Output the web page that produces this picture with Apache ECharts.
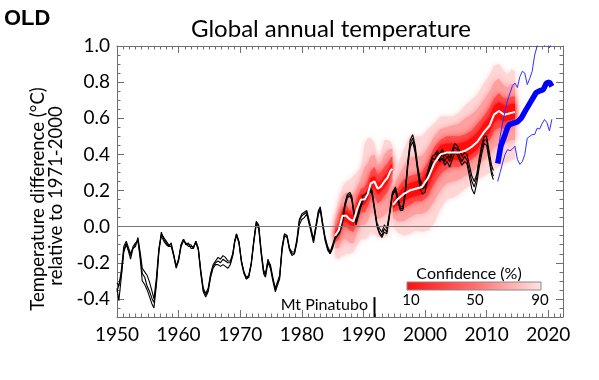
<!DOCTYPE html>
<html><head><meta charset="utf-8">
<script src="https://cdn.jsdelivr.net/npm/echarts@6/dist/echarts.min.js"></script>
<style>html,body{margin:0;padding:0;background:#fff}#c{width:599px;height:380px}</style>
</head><body><div id="c"></div>
<script>
// ---------- observations (three data sets) ----------
const obsYears = [
1950.0,1950.3,1950.7,1951.1,1951.5,1951.8,1952.2,1952.6,1953.0,1953.4,
1953.8,1954.1,1954.5,1954.9,1955.3,1955.7,1956.0,1956.4,1956.8,1957.2,
1957.6,1958.0,1958.4,1958.8,1959.2,1959.6,1960.0,1960.4,1960.8,1961.2,
1961.6,1962.0,1962.4,1962.8,1963.2,1963.6,1964.0,1964.4,1964.8,1965.2,
1965.6,1966.0,1966.4,1966.8,1967.2,1967.6,1968.0,1968.4,1968.8,1969.1,
1969.4,1969.8,1970.2,1970.6,1971.0,1971.4,1971.8,1972.2,1972.6,1973.0,
1973.4,1973.8,1974.1,1974.5,1974.9,1975.3,1975.7,1976.0,1976.4,1976.8,
1977.2,1977.6,1978.0,1978.4,1978.8,1979.2,1979.6,1980.0,1980.4,1980.8,
1981.1,1981.5,1981.9,1982.3,1982.7,1983.0,1983.4,1983.8,1984.2,1984.6,
1985.0,1985.4,1985.8,1986.2,1986.6,1987.0,1987.4,1987.8,1988.1,1988.4,
1988.8,1989.1,1989.5,1989.9,1990.3,1990.7,1991.0,1991.4,1991.8,1992.2,
1992.6,1993.0,1993.4,1993.8,1994.2,1994.7,1995.2,1995.6,1996.0,1996.4,
1996.8,1997.2,1997.6,1998.0,1998.4,1998.8,1999.2,1999.6,2000.0,2000.4,
2000.8,2001.2,2001.6,2002.0,2002.4,2002.8,2003.2,2003.6,2004.0,2004.4,
2004.8,2005.2,2005.6,2006.0,2006.4,2006.8,2007.2,2007.6,2008.0,2008.4,
2008.8,2009.2,2009.6,2010.0,2010.4,2010.8,2011.1];
const obsA = [
-0.34,-0.41,-0.28,-0.13,-0.09,-0.10,-0.18,-0.12,-0.10,-0.07,
-0.19,-0.30,-0.32,-0.35,-0.39,-0.43,-0.45,-0.32,-0.14,-0.04,
-0.06,-0.08,-0.10,-0.10,-0.15,-0.22,-0.18,-0.10,-0.07,-0.10,
-0.10,-0.10,-0.12,-0.08,-0.12,-0.25,-0.35,-0.38,-0.35,-0.27,
-0.22,-0.20,-0.19,-0.20,-0.18,-0.19,-0.20,-0.20,-0.15,-0.08,
-0.04,-0.08,-0.19,-0.25,-0.29,-0.27,-0.20,-0.08,0.02,0.00,
-0.14,-0.25,-0.27,-0.18,-0.22,-0.29,-0.35,-0.36,-0.28,-0.12,
-0.04,-0.05,-0.12,-0.15,-0.15,-0.08,0.03,0.06,0.07,0.08,
0.08,-0.02,-0.08,0.00,0.08,0.10,0.01,-0.07,-0.12,-0.15,
-0.11,-0.06,-0.04,-0.02,0.03,0.12,0.17,0.18,0.16,0.09,
0.02,0.03,0.11,0.15,0.16,0.18,0.21,0.19,0.10,0.01,
-0.03,-0.05,-0.01,-0.03,0.06,0.18,0.21,0.15,0.10,0.10,
0.19,0.35,0.46,0.49,0.43,0.32,0.24,0.21,0.22,0.28,
0.33,0.38,0.37,0.41,0.37,0.41,0.36,0.39,0.36,0.40,
0.44,0.43,0.39,0.36,0.39,0.37,0.31,0.25,0.22,0.27,
0.36,0.43,0.48,0.48,0.39,0.31,0.28];
const obsB = [
-0.36,-0.37,-0.27,-0.14,-0.10,-0.09,-0.16,-0.11,-0.09,-0.08,
-0.17,-0.26,-0.28,-0.33,-0.36,-0.40,-0.42,-0.31,-0.13,-0.03,
-0.07,-0.09,-0.11,-0.09,-0.16,-0.23,-0.19,-0.11,-0.08,-0.09,
-0.11,-0.11,-0.11,-0.09,-0.13,-0.26,-0.36,-0.39,-0.36,-0.28,
-0.23,-0.21,-0.21,-0.22,-0.21,-0.22,-0.23,-0.21,-0.16,-0.09,
-0.05,-0.09,-0.20,-0.26,-0.29,-0.28,-0.21,-0.09,0.01,-0.01,
-0.15,-0.26,-0.28,-0.20,-0.23,-0.30,-0.36,-0.37,-0.29,-0.13,
-0.05,-0.06,-0.13,-0.16,-0.15,-0.09,0.01,0.04,0.05,0.07,
0.07,-0.03,-0.09,-0.01,0.07,0.09,0.00,-0.08,-0.13,-0.15,
-0.12,-0.07,-0.05,-0.03,0.02,0.11,0.16,0.17,0.15,0.08,
0.01,0.02,0.10,0.14,0.15,0.17,0.20,0.18,0.09,0.00,
-0.04,-0.06,-0.03,-0.04,0.05,0.17,0.20,0.14,0.09,0.09,
0.18,0.33,0.44,0.47,0.41,0.31,0.21,0.18,0.19,0.26,
0.31,0.36,0.35,0.38,0.36,0.38,0.34,0.36,0.33,0.37,
0.41,0.40,0.37,0.34,0.36,0.35,0.28,0.21,0.18,0.24,
0.33,0.40,0.46,0.45,0.37,0.29,0.26];
const obsC = [
-0.31,-0.33,-0.24,-0.11,-0.08,-0.08,-0.15,-0.12,-0.11,-0.06,
-0.15,-0.23,-0.25,-0.27,-0.31,-0.36,-0.40,-0.28,-0.12,-0.05,
-0.08,-0.10,-0.11,-0.11,-0.16,-0.22,-0.18,-0.10,-0.07,-0.10,
-0.09,-0.12,-0.12,-0.08,-0.12,-0.24,-0.34,-0.37,-0.34,-0.26,
-0.21,-0.19,-0.17,-0.18,-0.16,-0.17,-0.19,-0.19,-0.15,-0.08,
-0.04,-0.09,-0.19,-0.25,-0.28,-0.27,-0.20,-0.08,0.03,0.01,
-0.13,-0.24,-0.26,-0.19,-0.21,-0.28,-0.34,-0.35,-0.27,-0.11,
-0.04,-0.05,-0.12,-0.14,-0.14,-0.07,0.04,0.07,0.08,0.09,
0.09,-0.01,-0.07,0.01,0.09,0.11,0.02,-0.06,-0.11,-0.14,
-0.10,-0.06,-0.03,-0.01,0.04,0.13,0.18,0.19,0.17,0.10,
0.03,0.04,0.12,0.17,0.18,0.19,0.22,0.20,0.11,0.02,
-0.01,-0.03,0.01,-0.01,0.07,0.19,0.22,0.16,0.11,0.11,
0.20,0.36,0.48,0.51,0.45,0.34,0.26,0.23,0.24,0.30,
0.35,0.39,0.40,0.42,0.40,0.43,0.39,0.41,0.38,0.42,
0.46,0.45,0.42,0.39,0.41,0.40,0.34,0.28,0.25,0.29,
0.38,0.45,0.50,0.50,0.42,0.34,0.31];

// ---------- hindcast fan, first block ----------
const hcYearsA = [1985.4,1986.0,1986.6,1987.2,1987.8,1988.4,1989.0,1989.6,1990.2,1990.7,1991.2,1991.8,1992.3,1992.8,1993.4,1993.9,1994.4,1994.7];
const hcMedA  = [-0.05,-0.02,0.06,0.06,0.04,0.03,0.10,0.15,0.15,0.18,0.24,0.25,0.21,0.22,0.25,0.27,0.31,0.32];
const hcLo90A = [-0.17,-0.18,-0.16,-0.15,-0.15,-0.14,-0.10,-0.07,-0.07,-0.06,-0.03,-0.04,-0.06,-0.06,-0.06,-0.05,0.00,0.03];
const hcLo60A = [-0.12,-0.12,-0.07,-0.07,-0.09,-0.09,-0.03,0.01,0.01,0.03,0.08,0.08,0.04,0.05,0.06,0.08,0.12,0.14];
const hcLo30A = [-0.09,-0.07,0.00,0.00,-0.02,-0.03,0.04,0.08,0.08,0.11,0.16,0.17,0.13,0.14,0.17,0.19,0.23,0.25];
const hcLo10A = [-0.07,-0.04,0.03,0.03,0.01,0.00,0.07,0.12,0.12,0.15,0.21,0.22,0.18,0.19,0.22,0.24,0.28,0.29];
const hcHi10A = [-0.03,0.00,0.09,0.09,0.07,0.06,0.13,0.18,0.18,0.21,0.27,0.28,0.24,0.25,0.28,0.30,0.34,0.35];
const hcHi30A = [-0.01,0.03,0.11,0.12,0.09,0.09,0.16,0.21,0.22,0.25,0.31,0.33,0.29,0.30,0.33,0.35,0.38,0.39];
const hcHi60A = [0.03,0.09,0.17,0.19,0.17,0.18,0.22,0.27,0.33,0.35,0.39,0.40,0.34,0.35,0.40,0.42,0.43,0.43];
const hcHi90A = [0.05,0.14,0.22,0.25,0.26,0.28,0.30,0.33,0.46,0.49,0.49,0.46,0.38,0.40,0.48,0.48,0.47,0.45];

// ---------- hindcast fan, second block ----------
const hcYearsB = [1994.8,1995.5,1996.5,1997.5,1998.5,1999.5,2000.5,2001.5,2002.5,2003.5,2004.5,2005.5,2006.5,2007.5,2008.5,2009.5,2010.5,2011.2,2012.0,2012.8,2013.5,2014.0,2014.6];
const hcMedB  = [0.12,0.15,0.18,0.20,0.21,0.22,0.27,0.35,0.40,0.41,0.41,0.41,0.42,0.44,0.47,0.52,0.56,0.62,0.64,0.62,0.625,0.63,0.635];
const hcLo90B = [0.00,-0.03,-0.05,-0.04,-0.02,-0.03,-0.02,0.02,0.10,0.15,0.16,0.18,0.21,0.23,0.26,0.28,0.30,0.32,0.33,0.35,0.36,0.37,0.37];
const hcLo60B = [0.05,0.03,0.03,0.05,0.07,0.07,0.09,0.14,0.20,0.24,0.25,0.26,0.28,0.30,0.33,0.37,0.40,0.44,0.45,0.46,0.47,0.48,0.48];
const hcLo30B = [0.08,0.09,0.10,0.12,0.14,0.14,0.17,0.24,0.29,0.32,0.33,0.33,0.35,0.37,0.40,0.45,0.48,0.53,0.55,0.54,0.55,0.56,0.56];
const hcLo10B = [0.10,0.12,0.14,0.16,0.17,0.18,0.22,0.30,0.35,0.36,0.37,0.37,0.38,0.40,0.43,0.48,0.52,0.58,0.60,0.58,0.59,0.59,0.60];
const hcHi10B = [0.14,0.18,0.22,0.24,0.25,0.26,0.32,0.40,0.45,0.46,0.46,0.46,0.47,0.49,0.52,0.57,0.61,0.67,0.69,0.67,0.67,0.68,0.68];
const hcHi30B = [0.16,0.21,0.26,0.28,0.29,0.30,0.36,0.44,0.48,0.50,0.50,0.50,0.51,0.53,0.57,0.61,0.66,0.71,0.74,0.71,0.71,0.72,0.72];
const hcHi60B = [0.22,0.27,0.33,0.38,0.39,0.39,0.44,0.50,0.54,0.55,0.56,0.57,0.60,0.62,0.65,0.70,0.75,0.80,0.82,0.78,0.77,0.79,0.79];
const hcHi90B = [0.30,0.34,0.42,0.50,0.50,0.50,0.54,0.57,0.61,0.61,0.61,0.63,0.67,0.70,0.73,0.79,0.84,0.89,0.90,0.86,0.84,0.87,0.86];

// ---------- forecast (blue) ----------
const fcYears = [2011.8,2012.3,2012.9,2013.4,2013.7,2014.0,2014.5,2015.0,2015.6,2016.4,2017.2,2018.0,2018.5,2019.2,2019.7,2020.2,2020.6];
const fcMid   = [0.35,0.445,0.50,0.55,0.565,0.575,0.575,0.58,0.60,0.648,0.694,0.74,0.75,0.758,0.795,0.80,0.777];
const fcBoundYears = [2011.8,2012.2,2012.6,2013.0,2013.4,2013.8,2014.2,2014.6,2015.0,2015.4,2015.8,2016.2,2016.6,2017.0,2017.4,2017.8,2018.2,2018.6,2019.0,2019.4,2019.8,2020.2,2020.6];
const fcUpper = [0.40,0.50,0.575,0.64,0.70,0.74,0.78,0.795,0.77,0.83,0.86,0.85,0.786,0.82,0.86,0.95,1.00,1.04,1.05,1.00,1.03,0.99,1.02];
const fcLower = [0.25,0.30,0.354,0.40,0.427,0.42,0.43,0.445,0.372,0.345,0.36,0.40,0.49,0.50,0.51,0.51,0.545,0.54,0.57,0.593,0.575,0.53,0.595];

// ---------- axes / annotations ----------
const xTickLabels = [1950,1960,1970,1980,1990,2000,2010,2020];
const yTickLabels = [-0.4,-0.2,0,0.2,0.4,0.6,0.8,1.0];
const confLabels = ['10','50','90'];
const pinatuboYear = 1991.8, pinatuboTop = -0.39;

const FONT = 'Lato';
const AX = '#6f6f6f';
const pairs = (xs, ys) => xs.map((x, i) => [x, ys[i]]);

function band(xs, lo, hi, color, blur) {
  const data = xs.map((x, i) => [x, lo[i], hi[i]]);
  return {
    type: 'custom', silent: true, z: 1, data: data,
    encode: { x: 0, y: [1, 2] },
    renderItem: function (params, api) {
      if (params.dataIndex !== 0) return;
      const top = data.map(d => api.coord([d[0], d[2]]));
      const bot = data.map(d => api.coord([d[0], d[1]])).reverse();
      return { type: 'polygon', shape: { points: top.concat(bot) },
               style: { fill: color, shadowBlur: blur, shadowColor: color } };
    }
  };
}
function line(data, color, width, z) {
  return { type: 'line', data: data, showSymbol: false, symbol: 'none', silent: true, z: z,
           lineStyle: { color: color, width: width }, animation: false };
}

const xBase = { type: 'value', min: 1950, max: 2022.4, splitLine: { show: false } };
const yBase = { type: 'value', min: -0.5, max: 1.0, splitLine: { show: false } };

const chart = echarts.init(document.getElementById('c'));
const series = [
  band(hcYearsA, hcLo90A, hcHi90A, '#ffd6d6', 5),
  band(hcYearsA, hcLo60A, hcHi60A, '#ffa0a0', 6),
  band(hcYearsA, hcLo30A, hcHi30A, '#ff4a4a', 6),
  band(hcYearsA, hcLo10A, hcHi10A, '#ff0c0c', 5),
  band(hcYearsB, hcLo90B, hcHi90B, '#ffd6d6', 5),
  band(hcYearsB, hcLo60B, hcHi60B, '#ffa0a0', 6),
  band(hcYearsB, hcLo30B, hcHi30B, '#ff4a4a', 6),
  band(hcYearsB, hcLo10B, hcHi10B, '#ff0c0c', 5),
  Object.assign(line(pairs(obsYears, obsA), '#000', 1.1, 3), {
    markLine: { silent: true, symbol: 'none', label: { show: false }, animation: false,
      lineStyle: { color: '#7a7a7a', width: 1, type: 'solid' },
      data: [ { yAxis: 0 } ] }
  }),
  line(pairs(obsYears, obsB), '#000', 1.1, 3),
  line(pairs(obsYears, obsC), '#000', 1.1, 3),
  line(pairs(hcYearsA, hcMedA), '#fff', 2, 4),
  line(pairs(hcYearsB, hcMedB), '#fff', 2, 4),
  line(pairs(fcBoundYears, fcUpper), '#3030ff', 1, 5),
  line(pairs(fcBoundYears, fcLower), '#3030ff', 1, 5),
  line(pairs(fcYears, fcMid), '#0000ff', 5.5, 6),
  line([[pinatuboYear, -0.5], [pinatuboYear, pinatuboTop]], '#000', 2, 6)
];

chart.setOption({
  animation: false,
  backgroundColor: '#fff',
  grid: { left: 117, right: 36, top: 46, bottom: 63, containLabel: false },
  xAxis: [
    Object.assign({}, xBase, { position: 'bottom', interval: 10,
      axisLine: { onZero: false, lineStyle: { color: AX, width: 1 } },
      axisTick: { inside: true, length: 7, lineStyle: { color: AX } },
      axisLabel: { margin: 8, fontSize: 19, color: '#000', fontFamily: FONT,
        formatter: v => xTickLabels.indexOf(v) >= 0 ? String(v) : '' } }),
    Object.assign({}, xBase, { position: 'bottom', interval: 1,
      axisLine: { show: false, onZero: false },
      axisTick: { inside: true, length: 3.5, lineStyle: { color: AX } },
      axisLabel: { show: false } }),
    Object.assign({}, xBase, { position: 'top', interval: 10,
      axisLine: { onZero: false, lineStyle: { color: AX, width: 1 } },
      axisTick: { inside: true, length: 7, lineStyle: { color: AX } },
      axisLabel: { show: false } }),
    Object.assign({}, xBase, { position: 'top', interval: 1,
      axisLine: { show: false, onZero: false },
      axisTick: { inside: true, length: 3.5, lineStyle: { color: AX } },
      axisLabel: { show: false } })
  ],
  yAxis: [
    Object.assign({}, yBase, { position: 'left',
      axisLine: { show: true, onZero: false, lineStyle: { color: AX, width: 1 } },
      axisTick: { show: true, inside: true, length: 7, customValues: yTickLabels, lineStyle: { color: AX } },
      axisLabel: { customValues: yTickLabels, margin: 7, fontSize: 19, color: '#000', fontFamily: FONT,
        formatter: v => Number(v).toFixed(1) } }),
    Object.assign({}, yBase, { position: 'left', interval: 0.05,
      axisLine: { show: false, onZero: false },
      axisTick: { show: true, inside: true, length: 3.5, lineStyle: { color: AX } },
      axisLabel: { show: false } }),
    Object.assign({}, yBase, { position: 'right',
      axisLine: { show: true, onZero: false, lineStyle: { color: AX, width: 1 } },
      axisTick: { show: true, inside: true, length: 7, customValues: yTickLabels, lineStyle: { color: AX } },
      axisLabel: { show: false } }),
    Object.assign({}, yBase, { position: 'right', interval: 0.05,
      axisLine: { show: false, onZero: false },
      axisTick: { show: true, inside: true, length: 3.5, lineStyle: { color: AX } },
      axisLabel: { show: false } })
  ],
  series: series,
  graphic: [
    { type: 'text', left: 4, top: 8, style: { text: 'OLD', font: 'bold 22px "Liberation Sans"', fill: '#000' } },
    { type: 'text', x: 331, y: 29, style: { text: 'Global annual temperature', font: '24px ' + FONT, fill: '#000', align: 'center', verticalAlign: 'middle' } },
    { type: 'text', x: 38, y: 199, rotation: Math.PI / 2, style: { text: 'Temperature difference (°C)', font: '18.5px ' + FONT, fill: '#000', align: 'center', verticalAlign: 'middle' } },
    { type: 'text', x: 56, y: 196, rotation: Math.PI / 2, style: { text: 'relative to 1971-2000', font: '18.5px ' + FONT, fill: '#000', align: 'center', verticalAlign: 'middle' } },
    { type: 'text', x: 368, y: 305, style: { text: 'Mt Pinatubo', font: '16px ' + FONT, fill: '#000', align: 'right', verticalAlign: 'middle' } },
    { type: 'text', x: 469, y: 274, style: { text: 'Confidence (%)', font: '16px ' + FONT, fill: '#000', align: 'center', verticalAlign: 'middle' } },
    { type: 'rect', shape: { x: 407, y: 282, width: 134, height: 8 },
      style: { stroke: '#8a8a8a', lineWidth: 1,
        fill: new echarts.graphic.LinearGradient(0, 0, 1, 0, [
          { offset: 0, color: '#ff1010' }, { offset: 0.5, color: '#ff6e6e' }, { offset: 1, color: '#ffe4e4' }]) } },
    { type: 'text', x: 411, y: 300, style: { text: confLabels[0], font: '15px ' + FONT, fill: '#000', align: 'center', verticalAlign: 'middle' } },
    { type: 'text', x: 475, y: 300, style: { text: confLabels[1], font: '15px ' + FONT, fill: '#000', align: 'center', verticalAlign: 'middle' } },
    { type: 'text', x: 540, y: 300, style: { text: confLabels[2], font: '15px ' + FONT, fill: '#000', align: 'center', verticalAlign: 'middle' } }
  ]
});
</script>
</body></html>
